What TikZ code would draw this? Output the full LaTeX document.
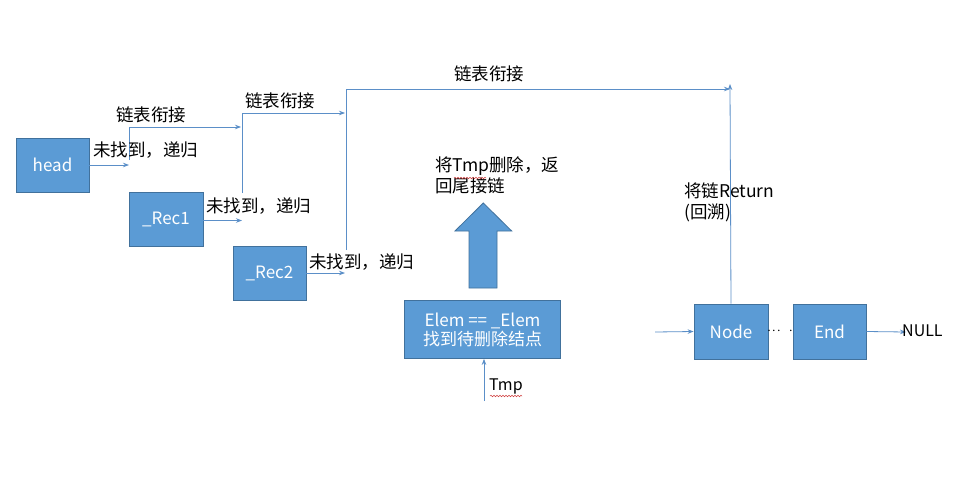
\documentclass[tikz,border=0pt]{standalone}
\usepackage{fontspec}
\setmainfont{Noto Sans CJK SC}
\usetikzlibrary{arrows.meta,decorations.pathmorphing}
\definecolor{boxfill}{HTML}{5B9BD5}
\definecolor{boxline}{HTML}{41719C}
\definecolor{conn}{HTML}{5B8FC8}
\definecolor{wavy}{HTML}{D04040}
\tikzset{
  blk/.style={draw=boxline, fill=boxfill, line width=0.8pt, text=white, inner sep=0pt, font=\fontsize{17}{20}\selectfont},
  lbl/.style={inner sep=0pt, anchor=west, font=\fontsize{17.5}{21}\selectfont, text=black},
  conline/.style={draw=conn, line width=0.8pt},
  conarrow/.style={draw=conn, line width=0.8pt, -{Stealth[length=6pt,width=4.5pt]}},
  squig/.style={draw=wavy, line width=0.5pt, decorate, decoration={snake, amplitude=0.8pt, segment length=3pt}}
}
\begin{document}
\begin{tikzpicture}[x=1pt,y=-1pt]
\useasboundingbox[fill=white] (0,0) rectangle (954,480);
% boxes
\node[blk, minimum width=73pt, minimum height=54pt] (head) at (52.5,165) {head};
\node[blk, minimum width=74pt, minimum height=54pt] (rec1) at (166,219.5) {\_Rec1};
\node[blk, minimum width=73pt, minimum height=54pt] (rec2) at (269.5,273) {\_Rec2};
\node[blk, minimum width=156pt, minimum height=58pt, align=center] (elem) at (482.5,329.5) {Elem == \_Elem\\[-1pt]找到待删除结点};
\node[blk, minimum width=74pt, minimum height=55pt] (nd) at (731,331.5) {Node};
\node[blk, minimum width=73pt, minimum height=55pt] (en) at (829.5,331.5) {End};
% dots
\node[inner sep=0pt, font=\fontsize{14}{16}\selectfont] (dots) at (780,331) {$\cdot\!\cdot\!\cdot\;\;\cdot$};
% big arrow
\filldraw[draw=boxline, fill=boxfill, line width=0.8pt] (469,288) -- (469,231) -- (455,231) -- (483.3,203) -- (511.7,231) -- (497,231) -- (497,288) -- cycle;
% coordinates
\coordinate (h1) at (129,165);
\coordinate (h2) at (129,160);
\coordinate (h3) at (129,127);
\coordinate (h4) at (241,127);
\coordinate (r1a) at (242,220.5);
\coordinate (r1b) at (242,193);
\coordinate (r1c) at (242,113);
\coordinate (r1d) at (345,113);
\coordinate (r2a) at (345,273);
\coordinate (r2b) at (346,250);
\coordinate (r2c) at (346,89);
\coordinate (r2d) at (730,89);
\coordinate (ntop) at (730,84);
\coordinate (nin) at (655,332);
\coordinate (nul) at (906,332);
\coordinate (tmp) at (484,401);
% connectors
\draw[conarrow] (head.east) -- (h1);
\draw[conline] (h2) -- (h3);
\draw[conarrow] (h3) -- (h4);
\draw[conarrow] (rec1.east |- r1a) -- (r1a);
\draw[conline] (r1b) -- (r1c);
\draw[conarrow] (r1c) -- (r1d);
\draw[conarrow] (rec2.east) -- (r2a);
\draw[conline] (r2b) -- (r2c);
\draw[conarrow] (r2c) -- (r2d);
\draw[conarrow] (nd.north) -- (ntop);
\draw[conarrow] (nin) -- (nd.west);
\draw[conarrow] (en.east) -- (nul);
\draw[conarrow] (tmp) -- (elem.south -| tmp);
% labels
\node[lbl] (l1) at (116,115) {链表衔接};
\node[lbl] (l2) at (93,150) {未找到，递归};
\node[lbl] (l3) at (245,101) {链表衔接};
\node[lbl] (l4) at (206,206) {未找到，递归};
\node[lbl] (l5) at (454,74) {链表衔接};
\node[lbl] (l6) at (309,262) {未找到，递归};
\node[lbl, anchor=north west, align=left] (l7) at (435,156) {将Tmp删除，返\\回尾接链};
\node[lbl, anchor=north west, align=left] (l8) at (684,183) {将链Return\\(回溯)};
\node[lbl, font=\fontsize{16}{20}\selectfont] (l9) at (489,386) {Tmp};
\node[lbl, font=\fontsize{16}{20}\selectfont] (l10) at (902,331) {NULL};
% spell-check squiggles
\draw[squig] (454,178) -- (486,178);
\draw[squig] (490,396) -- (522,396);
\end{tikzpicture}
\end{document}
